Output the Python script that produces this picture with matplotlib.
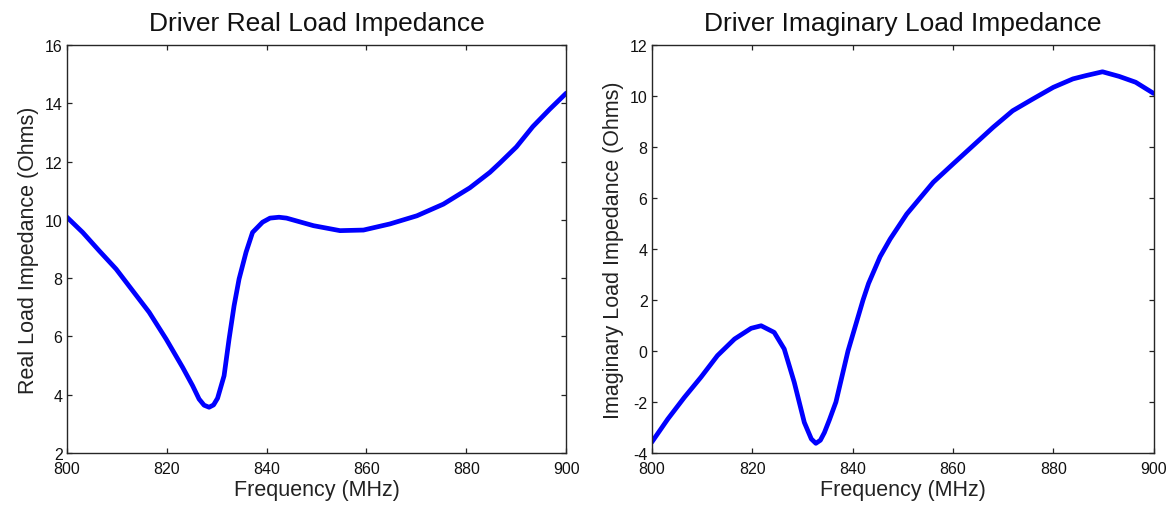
import matplotlib
matplotlib.use("Agg")
import matplotlib.pyplot as plt

plt.rcParams['font.family'] = ['Liberation Sans', 'DejaVu Sans']

# Left panel: real part
freq_real = [800, 803.2, 806.5, 809.9, 813.2, 816.5, 819.9, 823.2, 825.2, 826.5, 827.5,
             828.5, 829.4, 830.2, 831.5, 832.5, 833.5, 834.5, 835.9, 837.2, 839.2,
             840.7, 842.5, 844, 849.4, 854.7, 859.4, 864.7, 870.1, 875.4, 880.7,
             884.7, 886.7, 890, 893.3, 896.7, 900]
real_imp = [10.1, 9.57, 8.94, 8.31, 7.57, 6.83, 5.91, 4.94, 4.31, 3.85, 3.64,
            3.57, 3.65, 3.88, 4.65, 5.91, 7.05, 7.97, 8.89, 9.57, 9.92,
            10.06, 10.09, 10.06, 9.8, 9.63, 9.65, 9.86, 10.14, 10.54, 11.1,
            11.63, 11.95, 12.5, 13.2, 13.8, 14.35]

# Right panel: imaginary part
freq_imag = [800, 803.2, 806.5, 809.8, 813.1, 816.5, 819.8, 821.8, 824.4, 826.4, 828.4,
             830.4, 831.8, 832.7, 833.6, 834.4, 835.4, 836.7, 837.9, 839.1, 840.6,
             842.1, 843.2, 845.5, 847.5, 850.8, 856.1, 860, 864, 868, 871.9, 875.9,
             880, 883.9, 886.5, 889.8, 893.1, 896.4, 900]
imag_imp = [-3.58, -2.67, -1.82, -1.03, -0.18, 0.47, 0.89, 0.99, 0.73, 0.08, -1.23,
            -2.8, -3.45, -3.62, -3.5, -3.2, -2.7, -2.0, -1.0, 0.0, 1.0,
            2.0, 2.65, 3.7, 4.39, 5.37, 6.62, 7.33, 8.05, 8.77, 9.42, 9.88,
            10.34, 10.67, 10.8, 10.95, 10.77, 10.54, 10.1]

titles = ["Driver Real Load Impedance", "Driver Imaginary Load Impedance"]
ylabels = ["Real Load Impedance (Ohms)", "Imaginary Load Impedance (Ohms)"]
xlabel = "Frequency (MHz)"
xticks = [800, 820, 840, 860, 880, 900]
yticks_real = [2, 4, 6, 8, 10, 12, 14, 16]
yticks_imag = [-4, -2, 0, 2, 4, 6, 8, 10, 12]

W, H = 1172, 510
fig = plt.figure(figsize=(W / 100, H / 100), dpi=100)
ax1 = fig.add_axes([66.7 / W, (H - 454) / H, 499.6 / W, 408 / H])
ax2 = fig.add_axes([651.7 / W, (H - 454) / H, 502 / W, 408 / H])

panels = [
    (ax1, freq_real, real_imp, yticks_real, titles[0], ylabels[0]),
    (ax2, freq_imag, imag_imp, yticks_imag, titles[1], ylabels[1]),
]
for ax, xs, ys, yt, title, ylab in panels:
    ax.plot(xs, ys, color='#0000ff', lw=3.4, solid_joinstyle='round', solid_capstyle='round')
    ax.set_xlim(800, 900)
    ax.set_ylim(yt[0], yt[-1])
    ax.set_xticks(xticks)
    ax.set_yticks(yt)
    ax.set_xticklabels([str(v) for v in xticks])
    ax.set_yticklabels([str(v) for v in yt])
    ax.tick_params(direction='in', length=3.8, width=0.9, top=True, right=True,
                   labelsize=11.5, colors='#222222', labelcolor='#111111')
    ax.tick_params(axis='x', pad=6)
    ax.tick_params(axis='y', pad=3)
    for s in ax.spines.values():
        s.set_linewidth(1.0)
        s.set_color('#262626')
    ax.set_title(title, fontsize=19, pad=11, color='#111111')
    ax.set_xlabel(xlabel, fontsize=15.5, labelpad=2, color='#222222')
    ax.set_ylabel(ylab, fontsize=15.5, labelpad=4, color='#222222')

fig.savefig("out.png", dpi=100, facecolor='white')
